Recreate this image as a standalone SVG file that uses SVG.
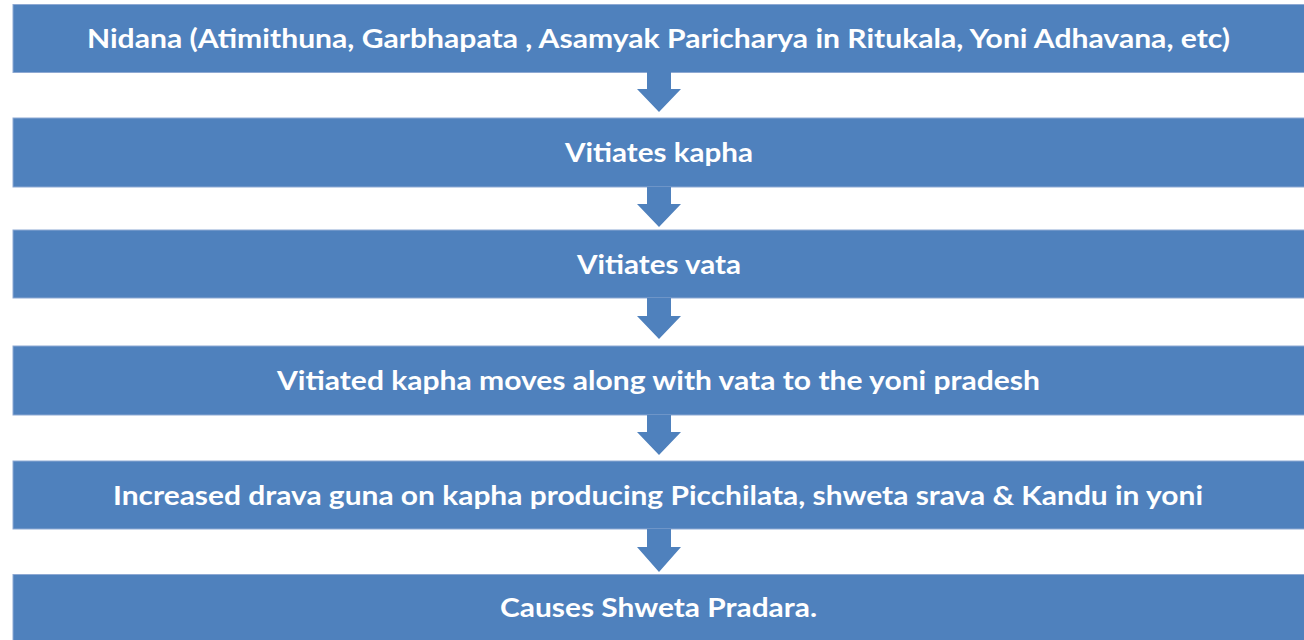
<svg xmlns="http://www.w3.org/2000/svg" width="1304" height="640" viewBox="0 0 1304 640">
<style>
.box{fill:#4F81BD;stroke:#8EA9D3;stroke-width:1}
.t{fill:#FFFFFF;font-family:Lato,"Open Sans","Liberation Sans",sans-serif;font-weight:bold;font-size:27px;text-anchor:middle}
.arr{fill:#4F81BD}
</style>
<rect width="1304" height="640" fill="#FFFFFF"/>
<g id="n1"><rect class="box" x="13" y="4.5" width="1300" height="68"/><text class="t" x="658.5" y="48" textLength="1143" lengthAdjust="spacingAndGlyphs">Nidana (Atimithuna, Garbhapata , Asamyak Paricharya in Ritukala, Yoni Adhavana, etc)</text></g>
<g id="n2"><rect class="box" x="13" y="118" width="1300" height="69"/><text class="t" x="659" y="162" textLength="188" lengthAdjust="spacingAndGlyphs">Vitiates kapha</text></g>
<g id="n3"><rect class="box" x="13" y="230" width="1300" height="68"/><text class="t" x="659" y="274" textLength="164" lengthAdjust="spacingAndGlyphs">Vitiates vata</text></g>
<g id="n4"><rect class="box" x="13" y="346" width="1300" height="69"/><text class="t" x="658.5" y="390" textLength="763" lengthAdjust="spacingAndGlyphs">Vitiated kapha moves along with vata to the yoni pradesh</text></g>
<g id="n5"><rect class="box" x="13" y="461" width="1300" height="68"/><text class="t" x="658" y="505" textLength="1090" lengthAdjust="spacingAndGlyphs">Increased drava guna on kapha producing Picchilata, shweta srava &amp; Kandu in yoni</text></g>
<g id="n6"><rect class="box" x="13" y="574.5" width="1300" height="70"/><text class="t" x="658.5" y="617" textLength="317" lengthAdjust="spacingAndGlyphs">Causes Shweta Pradara.</text></g>
<g id="connectors">
<path class="arr" d="M647,72 H671 V89 H681 L659,112 L637,89 H647 Z"/>
<path class="arr" d="M647,187 H671 V204 H681 L659,227 L637,204 H647 Z"/>
<path class="arr" d="M647,298 H671 V316 H681 L659,339 L637,316 H647 Z"/>
<path class="arr" d="M647,415 H671 V432 H681 L659,455 L637,432 H647 Z"/>
<path class="arr" d="M647,529 H671 V547 H681 L659,572 L637,547 H647 Z"/>
</g>
</svg>
